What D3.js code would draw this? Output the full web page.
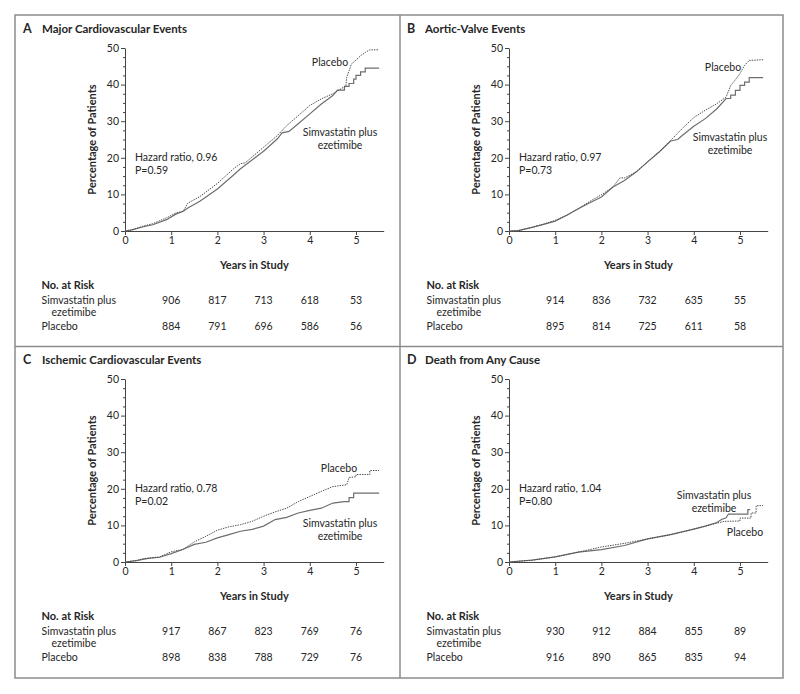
<!DOCTYPE html>
<html><head><meta charset="utf-8">
<script src="https://cdn.jsdelivr.net/npm/d3@7"></script>
<style>
html,body{margin:0;padding:0;background:#fff;}
text{font-family:Lato,"Open Sans",sans-serif;fill:#262626;}
</style></head>
<body><svg id="c" width="800" height="694"></svg>
<script>
// ---------- DATA ----------
const panelLetters = ["A","B","C","D"];
const panelTitles = ["Major Cardiovascular Events","Aortic-Valve Events","Ischemic Cardiovascular Events","Death from Any Cause"];
const hazardRatios = ["Hazard ratio, 0.96","Hazard ratio, 0.97","Hazard ratio, 0.78","Hazard ratio, 1.04"];
const pValues = ["P=0.59","P=0.73","P=0.02","P=0.80"];
const yTicks = [0,10,20,30,40,50];
const yMinorTicks = [2.5,5,7.5,12.5,15,17.5,22.5,25,27.5,32.5,35,37.5,42.5,45,47.5];
const xTicks = [0,1,2,3,4,5];
const riskYears = [1,2,3,4,5];
const riskSimva = [[906,817,713,618,53],[914,836,732,635,55],[917,867,823,769,76],[930,912,884,855,89]];
const riskPlacebo = [[884,791,696,586,56],[895,814,725,611,58],[898,838,788,729,76],[916,890,865,835,94]];

// [years, percentage]
const majorSimva = [[0,0],[0.15,0.3],[0.38,1.1],[0.6,1.7],[0.9,3.1],[1.1,4.6],[1.26,5.4],[1.36,6.3],[1.62,8.1],[2,11.5],[2.35,15.3],[2.5,17],[3,21.8],[3.3,25.2],[3.4,26.8],[3.55,27.2],[3.75,29.3],[4,32],[4.25,34.7],[4.5,37],[4.6,38.5],[4.75,38.5],[4.75,39.5],[4.85,39.5],[4.85,40.3],[4.95,40.3],[4.95,41.5],[5.0,41.5],[5.0,42.5],[5.1,42.5],[5.1,43.5],[5.2,43.5],[5.2,44.5],[5.5,44.5]];
const majorPlacebo = [[0,0],[0.15,0.3],[0.38,1.3],[0.6,2.0],[0.9,3.6],[1.1,4.9],[1.26,5.4],[1.36,7.6],[1.62,9.4],[2,13],[2.35,17],[2.5,18.4],[2.6,18.6],[3,22.9],[3.3,26.1],[3.5,28.8],[3.75,31.5],[4,34.3],[4.25,36.1],[4.5,37.5],[4.72,39.2],[4.78,39.5],[4.8,42],[4.85,43.8],[4.9,45.6],[5,46.7],[5.1,47.9],[5.2,48.8],[5.3,49.5],[5.5,49.5]];
const valveSimva = [[0,0],[0.2,0.1],[0.5,1.0],[0.75,1.8],[1,2.7],[1.25,4.3],[1.5,6.1],[1.75,7.7],[2,9.3],[2.25,12],[2.5,13.8],[2.75,16.1],[3,18.9],[3.25,21.6],[3.5,24.6],[3.65,25],[3.75,26.1],[4,28.6],[4.25,30.7],[4.5,33.4],[4.7,36.2],[4.8,36.2],[4.8,37.1],[4.9,37.1],[4.9,38.4],[5.0,38.4],[5.0,39.8],[5.1,39.8],[5.1,40.7],[5.2,40.7],[5.2,41.9],[5.5,41.9]];
const valvePlacebo = [[0,0],[0.2,0.1],[0.5,1.0],[0.75,1.9],[1,2.9],[1.25,4.3],[1.5,6.1],[1.75,8.1],[2,9.9],[2.25,12],[2.4,14.5],[2.5,14.5],[2.75,16.1],[3,18.9],[3.25,21.6],[3.5,24.8],[3.75,28],[4,31],[4.25,33],[4.5,34.8],[4.7,36.6],[4.8,39.8],[4.9,41.3],[5,43],[5.1,45.3],[5.2,46.6],[5.5,46.8]];
const ischemicSimva = [[0,0],[0.25,0.4],[0.5,1.0],[0.75,1.3],[1,2.3],[1.25,3.4],[1.5,4.8],[1.75,5.4],[2,6.6],[2.25,7.5],[2.5,8.4],[2.75,8.9],[3,9.8],[3.25,11.6],[3.5,12.2],[3.75,13.4],[4,14.1],[4.25,14.7],[4.5,16.1],[4.75,16.5],[4.85,16.5],[4.85,17.6],[4.95,17.6],[4.95,18.8],[5.5,18.8]];
const ischemicPlacebo = [[0,0],[0.25,0.4],[0.4,0.9],[0.75,1.4],[1,2.8],[1.25,3.4],[1.5,5.5],[1.75,7],[2,8.7],[2.25,9.6],[2.5,10.2],[2.75,11.1],[3,12.5],[3.25,13.7],[3.5,14.7],[3.75,16.5],[4,17.9],[4.25,19.3],[4.5,20.6],[4.8,21.1],[4.85,23.1],[5.0,23.3],[5.0,23.9],[5.3,23.9],[5.3,25],[5.5,25]];
const deathSimva = [[0,0],[0.5,0.5],[1,1.4],[1.5,2.7],[2,3.4],[2.5,4.5],[3,6.3],[3.5,7.5],[4,9.0],[4.25,9.8],[4.5,10.8],[4.6,11.6],[4.7,12.1],[4.75,13.1],[5.17,13.1],[5.17,14.3],[5.22,14.3]];
const deathPlacebo = [[0,0],[0.5,0.5],[1,1.4],[1.5,2.7],[2,4.1],[2.5,5.1],[3,6.3],[3.5,7.5],[4,9.0],[4.25,9.8],[4.5,10.6],[4.66,11.1],[5.0,11.2],[5.0,12.0],[5.24,12.0],[5.24,13.4],[5.35,13.4],[5.35,15.4],[5.5,15.4]];

const simvaSeries = [majorSimva, valveSimva, ischemicSimva, deathSimva];
const placeboSeries = [majorPlacebo, valvePlacebo, ischemicPlacebo, deathPlacebo];

// ---------- LAYOUT ----------
const svg = d3.select("#c");
const offX = [0,384,0,384], offY = [0,0,331,331];
const labelPos = [
  {pl:[330,62], sv:[340,132]},
  {pl:[339,67], sv:[346,137]},
  {pl:[339,137], sv:[340,192]},
  {pl:[361,201], sv:[330,164]}
];

// frame
svg.append("rect").attr("x",15).attr("y",15).attr("width",768).attr("height",663)
  .attr("fill","none").attr("stroke","#8c8c8c").attr("stroke-width",1.5);
svg.append("line").attr("x1",400).attr("x2",400).attr("y1",15).attr("y2",678).attr("stroke","#8c8c8c").attr("stroke-width",1.5);
svg.append("line").attr("x1",15).attr("x2",783).attr("y1",346.5).attr("y2",346.5).attr("stroke","#8c8c8c").attr("stroke-width",1.5);

for (let i=0;i<4;i++){
  const g = svg.append("g").attr("transform",`translate(${offX[i]},${offY[i]})`);
  const x = d3.scaleLinear().domain([0,5.6]).range([125,383.7]);
  const y = d3.scaleLinear().domain([0,50]).range([231,48]);

  // title
  const t = g.append("text").attr("y",29).attr("dy","0.35em").style("font-weight","bold").style("font-size","12.5px");
  t.append("tspan").attr("x",23).text(panelLetters[i]);
  t.append("tspan").attr("x", i%2===0 ? 42 : 41).style("font-size","11.5px").text(panelTitles[i]);

  // y minor ticks
  g.append("g").attr("transform","translate(125,0)")
    .call(d3.axisLeft(y).tickValues(yMinorTicks).tickSize(2).tickFormat(""))
    .call(s=>s.select(".domain").remove())
    .call(s=>s.selectAll("line").attr("stroke","#444"));
  // y axis
  g.append("g").attr("transform","translate(125,0)")
    .call(d3.axisLeft(y).tickValues(yTicks).tickFormat(d3.format("d")).tickSize(4).tickSizeOuter(0).tickPadding(2))
    .call(s=>s.select(".domain").attr("stroke","#444"))
    .call(s=>s.selectAll("line").attr("stroke","#444"))
    .call(s=>s.selectAll("text").style("font-size","10.5px").style("font-family","Lato").attr("fill","#262626"));
  // x axis
  g.append("g").attr("transform","translate(0,231)")
    .call(d3.axisBottom(x).tickValues(xTicks).tickFormat(d3.format("d")).tickSize(4).tickSizeOuter(0).tickPadding(2))
    .call(s=>s.select(".domain").attr("stroke","#444"))
    .call(s=>s.selectAll("line").attr("stroke","#444"))
    .call(s=>s.selectAll("text").style("font-size","10.5px").style("font-family","Lato").attr("fill","#262626"));

  // y label
  g.append("text").attr("transform","translate(92,139.5) rotate(-90)").attr("text-anchor","middle")
    .attr("dy","0.35em").style("font-weight","bold").style("font-size","11px").text("Percentage of Patients");
  // x label
  g.append("text").attr("x",(x(0)+x(5.6))/2).attr("y",265).attr("dy","0.35em").attr("text-anchor","middle")
    .style("font-weight","bold").style("font-size","11px").text("Years in Study");

  // curves
  const line = d3.line().x(d=>x(d[0])).y(d=>y(d[1])).curve(d3.curveLinear);
  g.append("path").datum(simvaSeries[i]).attr("d",line).attr("fill","none")
    .attr("stroke","#6e6e6e").attr("stroke-width",1.2);
  g.append("path").datum(placeboSeries[i]).attr("d",line).attr("fill","none")
    .attr("stroke","#4a4a4a").attr("stroke-width",1).attr("stroke-dasharray","1.4,1.1");

  // annotations
  g.append("text").attr("x",x(0)+10).attr("y",157).attr("dy","0.35em").style("font-size","10.5px").text(hazardRatios[i]);
  g.append("text").attr("x",x(0)+10).attr("y",170.5).attr("dy","0.35em").style("font-size","10.5px").text(pValues[i]);

  const lp = labelPos[i];
  g.append("text").attr("x",lp.pl[0]).attr("y",lp.pl[1]).attr("dy","0.35em").attr("text-anchor","middle").style("font-size","10.5px").text("Placebo");
  g.append("text").attr("x",lp.sv[0]).attr("y",lp.sv[1]).attr("dy","0.35em").attr("text-anchor","middle").style("font-size","10.5px").text("Simvastatin plus");
  g.append("text").attr("x",lp.sv[0]).attr("y",lp.sv[1]+13.5).attr("dy","0.35em").attr("text-anchor","middle").style("font-size","10.5px").text("ezetimibe");

  // risk table
  const lx = 41.5 + (i%2===1 ? 1 : 0);
  g.append("text").attr("x",lx).attr("y",285).attr("dy","0.35em").style("font-weight","bold").style("font-size","11px").text("No. at Risk");
  g.append("text").attr("x",lx).attr("y",300).attr("dy","0.35em").style("font-size","10.5px").text("Simvastatin plus");
  g.append("text").attr("x",lx+10).attr("y",312.5).attr("dy","0.35em").style("font-size","10.5px").text("ezetimibe");
  g.append("text").attr("x",lx).attr("y",326).attr("dy","0.35em").style("font-size","10.5px").text("Placebo");
  g.selectAll("text.rs").data(riskSimva[i]).join("text").attr("class","rs")
    .attr("x",(d,j)=>x(riskYears[j])).attr("y",300).attr("dy","0.35em").attr("text-anchor","middle").style("font-size","10.5px").text(d=>d);
  g.selectAll("text.rp").data(riskPlacebo[i]).join("text").attr("class","rp")
    .attr("x",(d,j)=>x(riskYears[j])).attr("y",326).attr("dy","0.35em").attr("text-anchor","middle").style("font-size","10.5px").text(d=>d);
}
</script></body></html>
